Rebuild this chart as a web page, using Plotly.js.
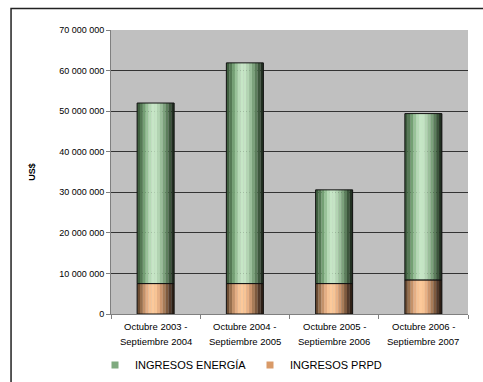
<!DOCTYPE html>
<html>
<head>
<meta charset="utf-8">
<script src="https://cdn.plot.ly/plotly-3.0.1.min.js"></script>
<style>
  html, body { margin: 0; padding: 0; background: #ffffff; }
  #chart { width: 483px; height: 382px; }
</style>
</head>
<body>
<div id="chart"></div>
<script>
// Periods (one category per fiscal year)
const categories = [
  "Octubre 2003 - Septiembre 2004",
  "Octubre 2004 - Septiembre 2005",
  "Octubre 2005 - Septiembre 2006",
  "Octubre 2006 - Septiembre 2007"
];
// Two-line category labels
const labelLine1 = ["Octubre 2003 -", "Octubre 2004 -", "Octubre 2005 -", "Octubre 2006 -"];
const labelLine2 = ["Septiembre 2004", "Septiembre 2005", "Septiembre 2006", "Septiembre 2007"];
// Revenue in US$
const ingresosPRPD    = [7500000, 7500000, 7500000, 8400000];
const ingresosEnergia = [44500000, 54400000, 23100000, 41000000];

// Shading ramps (left to right) giving each column a rounded, cylindrical look
const greenRamp = ["#3e5e3e", "#557a55", "#74a074", "#98c298", "#b6dab6", "#c6e6c6",
                   "#c4e4c4", "#b2d4b2", "#9abe9a", "#7ca27c", "#5c7e5c", "#3c563c", "#223022"];
const orangeRamp = ["#6c4c32", "#98704e", "#c4926a", "#e4ae84", "#f6c294", "#fcc99a",
                    "#f8c494", "#e8b084", "#cc966e", "#a87c58", "#7e5a3e", "#52392a", "#2e2016"];

const barWidth = 0.415;
const traces = [];

function addColumn(name, values, base, ramp, legendColor, rank) {
  const n = ramp.length;
  const w = barWidth / n;
  ramp.forEach((c, i) => {
    traces.push({
      type: "bar",
      name: name,
      x: categories,
      y: values,
      base: base,
      width: categories.map(() => w * 1.02),
      offset: categories.map(() => -barWidth / 2 + i * w),
      marker: { color: c, line: { width: 0 } },
      legendgroup: name,
      showlegend: false,
      hoverinfo: "skip"
    });
  });
  // dark outline around the whole column
  traces.push({
    type: "bar",
    name: name,
    x: categories,
    y: values,
    base: base,
    width: categories.map(() => barWidth),
    offset: categories.map(() => -barWidth / 2),
    marker: { color: "rgba(0,0,0,0)", line: { color: "#111111", width: 1 } },
    legendgroup: name,
    showlegend: false,
    hoverinfo: "skip"
  });
  // legend entry (small square swatch)
  traces.push({
    type: "scatter",
    mode: "markers",
    name: name,
    x: categories,
    y: values.map(() => null),
    marker: { color: legendColor, symbol: "square", size: 7, line: { width: 0 } },
    legendgroup: name,
    legendrank: rank,
    showlegend: true,
    hoverinfo: "skip"
  });
}

const zeros = categories.map(() => 0);
addColumn("INGRESOS PRPD", ingresosPRPD, zeros, orangeRamp, "#d99a68", 2);
addColumn("INGRESOS ENERGÍA", ingresosEnergia, ingresosPRPD, greenRamp, "#7faa7f", 1);

// category labels below the axis, two lines each
const annotations = [];
categories.forEach((c, i) => {
  annotations.push({
    x: c, xref: "x", y: 326.5, yref: "paper",
    text: labelLine1[i], showarrow: false,
    font: { size: 9.5 }, xanchor: "center", yanchor: "middle"
  });
  annotations.push({
    x: c, xref: "x", y: 341.5, yref: "paper",
    text: labelLine2[i], showarrow: false,
    font: { size: 9.5 }, xanchor: "center", yanchor: "middle"
  });
});
// convert pixel rows to paper fractions of the plot area
const plotTop = 29.5, plotBottom = 314;
annotations.forEach(a => { a.y = (plotBottom - a.y) / (plotBottom - plotTop); });

const layout = {
  width: 483,
  height: 382,
  margin: { l: 111, r: 15, t: 29.5, b: 68, pad: 0 },
  paper_bgcolor: "#ffffff",
  plot_bgcolor: "#c0c0c0",
  barmode: "overlay",
  separators: ", ",
  font: { family: "Liberation Sans, Arial, sans-serif", color: "#000000", size: 9 },
  showlegend: true,
  legend: {
    orientation: "h",
    xref: "container", yref: "container",
    x: 95 / 483, xanchor: "left",
    y: (382 - 365) / 382, yanchor: "middle",
    font: { size: 11, color: "#000000" },
    itemwidth: 30,
    entrywidth: 110,
    traceorder: "normal",
    bgcolor: "rgba(0,0,0,0)"
  },
  xaxis: {
    type: "category",
    tickson: "boundaries",
    ticks: "outside",
    ticklen: 4,
    tickcolor: "#808080",
    showticklabels: false,
    showline: true,
    linecolor: "#808080",
    linewidth: 1,
    showgrid: false,
    fixedrange: true
  },
  yaxis: {
    range: [0, 70000000],
    tickmode: "linear",
    tick0: 0,
    dtick: 10000000,
    tickformat: ",d",
    ticks: "outside",
    ticklen: 4,
    tickcolor: "#808080",
    showline: true,
    linecolor: "#808080",
    linewidth: 1,
    showgrid: true,
    gridcolor: "#333333",
    gridwidth: 1,
    zeroline: false,
    tickfont: { size: 9 },
    title: { text: "<b>US$</b>", font: { size: 9, color: "#000000" }, standoff: 22 },
    automargin: false,
    fixedrange: true
  },
  annotations: annotations,
  shapes: [{
    type: "rect",
    xref: "paper", yref: "paper",
    x0: -0.28, x1: 1.3, y0: -0.4, y1: 1.0756,
    line: { color: "#222222", width: 1.5 },
    fillcolor: "rgba(0,0,0,0)",
    layer: "above"
  }]
};

Plotly.newPlot("chart", traces, layout, { displayModeBar: false, staticPlot: true });
</script>
</body>
</html>
